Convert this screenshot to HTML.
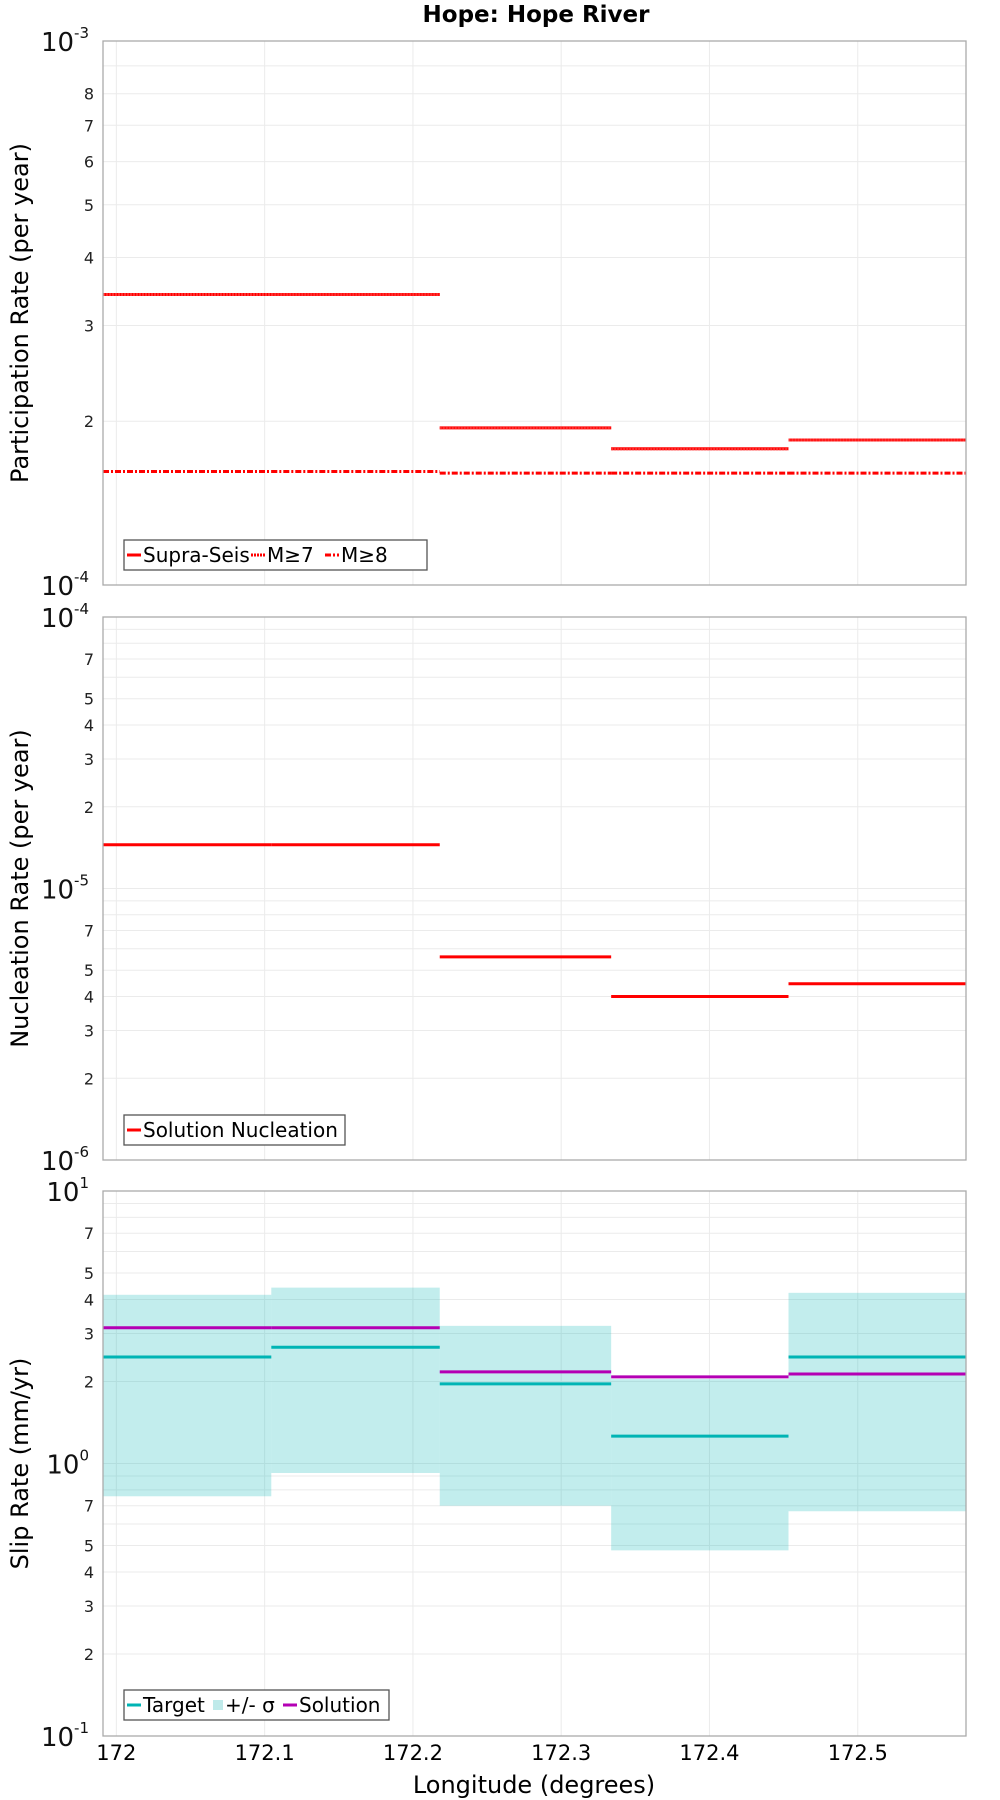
<!DOCTYPE html>
<html><head><meta charset="utf-8"><style>
html,body{margin:0;padding:0;background:#fff;}
svg{display:block;font-family:"DejaVu Sans","Liberation Sans",sans-serif;}
</style></head><body>
<svg id="chart" width="1000" height="1800" viewBox="0 0 1000 1800" xmlns="http://www.w3.org/2000/svg">
<text x="536" y="22" text-anchor="middle" font-size="23" font-weight="bold">Hope: Hope River</text>
<text x="534" y="1793" text-anchor="middle" font-size="24">Longitude (degrees)</text>
</svg>
<script>
const segEdges = [171.991, 172.1045, 172.2181, 172.3337, 172.4533, 172.573];
const xTicks = [172, 172.1, 172.2, 172.3, 172.4, 172.5];
const xTickLabels = ["172", "172.1", "172.2", "172.3", "172.4", "172.5"];
const supraSeis = [3.42e-4, 3.42e-4, 1.945e-4, 1.78e-4, 1.847e-4];
const m7 = [3.42e-4, 3.42e-4, 1.945e-4, 1.78e-4, 1.847e-4];
const m8 = [1.617e-4, 1.617e-4, 1.606e-4, 1.606e-4, 1.606e-4];
const nucleation = [1.45e-5, 1.45e-5, 5.6e-6, 4.0e-6, 4.46e-6];
const target = [2.46, 2.67, 1.96, 1.26, 2.46];
const solution = [3.15, 3.15, 2.17, 2.08, 2.13];
const sigmaHigh = [4.16, 4.42, 3.2, 2.04, 4.23];
const sigmaLow = [0.758, 0.923, 0.70, 0.48, 0.668];

const NS = "http://www.w3.org/2000/svg";
const svg = document.getElementById('chart');
const L = 103, R = 966;
function xs(v){ return L + (v - segEdges[0]) / (segEdges[segEdges.length-1] - segEdges[0]) * (R - L); }
function mk(tag, attrs, parent){ const e = document.createElementNS(NS, tag); for (const k in attrs) e.setAttribute(k, attrs[k]); (parent||svg).appendChild(e); return e; }

function panel(top, bottom, lmin, lmax, name, ylabel, labelled){
  const g = mk('g', {});
  
  
  const ys = v => bottom - (Math.log10(v) - lmin) / (lmax - lmin) * (bottom - top);
  for (let d = lmin; d < lmax; d++) {
    for (let m = 2; m <= 9; m++) {
      const v = m * Math.pow(10, d); const y = ys(v);
      const gl = mk('line', {x1:L, x2:R, y1:y, y2:y, stroke:'#ebebeb', 'stroke-width':1}, g);
      
      
      if (labelled.includes(m)) {
        const t = mk('text', {x:L-9, y:y+6, 'text-anchor':'end', 'font-size':16, fill:'#222'}, g);
        
        
        t.textContent = m;
      }
    }
  }
  for (let d = lmin; d <= lmax; d++) {
    const y = ys(Math.pow(10, d));
    if (d > lmin && d < lmax) mk('line', {x1:L, x2:R, y1:y, y2:y, stroke:'#ebebeb'}, g);
    const t = mk('text', {x:L-14, y:y+10, 'text-anchor':'end', 'font-size':26, fill:'#111'}, g);
    
    
    t.textContent = '10';
    const s = mk('tspan', {dy:-13, 'font-size':15}, t); s.textContent = d;
  }
  xTicks.forEach(v => {
    const gl = mk('line', {x1:xs(v), x2:xs(v), y1:top, y2:bottom, stroke:'#ebebeb'}, g);
    
    
  });
  const yl = mk('text', {x:0, y:0, transform:`translate(28,${(top+bottom)/2}) rotate(-90)`, 'text-anchor':'middle', 'font-size':24}, g);
  
  
  yl.textContent = ylabel;
  return {g, ys, top, bottom};
}
function border(p){
  const b = mk('rect', {x:L, y:p.top, width:R-L, height:p.bottom-p.top, fill:'none', stroke:'#aaa', 'stroke-width':1.3}, p.g);
  
  
}
function steps(p, vals, color, dash, name, w){
  vals.forEach((v, i) => {
    const l = mk('line', {x1:xs(segEdges[i]), x2:xs(segEdges[i+1]), y1:p.ys(v), y2:p.ys(v), stroke:color, 'stroke-width':w||3}, p.g);
    if (dash) l.setAttribute('stroke-dasharray', dash);
    
    
  });
}
function legend(p, x, y, w, items){
  const lg = mk('g', {}, p.g);
  
  
  mk('rect', {x:x, y:y, width:w, height:30, fill:'#fff', stroke:'#555', 'stroke-width':1.3}, lg);
  let cx = x + 3;
  items.forEach(it => {
    if (it.box) mk('rect', {x:cx, y:y+10, width:10, height:10, fill:it.color}, lg);
    else { const l = mk('line', {x1:cx, x2:cx+14, y1:y+15, y2:y+15, stroke:it.color, 'stroke-width':3}, lg); if (it.dash) l.setAttribute('stroke-dasharray', it.dash); }
    const t = mk('text', {x:cx + (it.box?12:16), y:y+22, 'font-size':20}, lg);
    
    
    t.textContent = it.label;
    cx += (it.box?12:16) + it.w;
  });
}

const p1 = panel(41, 585, -4, -3, 'participation-panel', 'Participation Rate (per year)', [2,3,4,5,6,7,8]);
steps(p1, m8, '#ff0000', '6,2,2,2', 'm8-line', 3);
steps(p1, supraSeis, '#ff0000', null, 'supra-seis-line', 3);
steps(p1, m7, '#ff3030', '2,1', 'm7-line', 3);
border(p1);
legend(p1, 124, 540, 303, [{color:'#f00', label:'Supra-Seis', w:108},{color:'#f00', dash:'2,1', label:'M≥7', w:58},{color:'#f00', dash:'6,2,2,2', label:'M≥8', w:60}]);

const p2 = panel(617, 1160, -6, -4, 'nucleation-panel', 'Nucleation Rate (per year)', [2,3,4,5,7]);
steps(p2, nucleation, '#ff0000', null, 'nucleation-line', 3);
border(p2);
legend(p2, 124, 1115, 221, [{color:'#f00', label:'Solution Nucleation', w:190}]);

const p3 = panel(1191, 1736, -1, 1, 'slip-rate-panel', 'Slip Rate (mm/yr)', [2,3,4,5,7]);
sigmaHigh.forEach((v, i) => {
  const r = mk('rect', {x:xs(segEdges[i]), y:p3.ys(v), width:xs(segEdges[i+1])-xs(segEdges[i]), height:p3.ys(sigmaLow[i])-p3.ys(v), fill:'#00b4b4', 'fill-opacity':0.24}, p3.g);
  
  
});
steps(p3, target, '#00b4b4', null, 'target-line', 3);
steps(p3, solution, '#b400b4', null, 'solution-line', 3);
border(p3);
legend(p3, 124, 1690, 265, [{color:'#00b4b4', label:'Target', w:70},{color:'#bfeaea', box:true, label:'+/- σ', w:58},{color:'#b400b4', label:'Solution', w:90}]);

xTicks.forEach((v, i) => {
  const t = mk('text', {x:xs(v), y:1760, 'text-anchor':'middle', 'font-size':21});
  
  
  t.textContent = xTickLabels[i];
});
</script>
</body></html>
